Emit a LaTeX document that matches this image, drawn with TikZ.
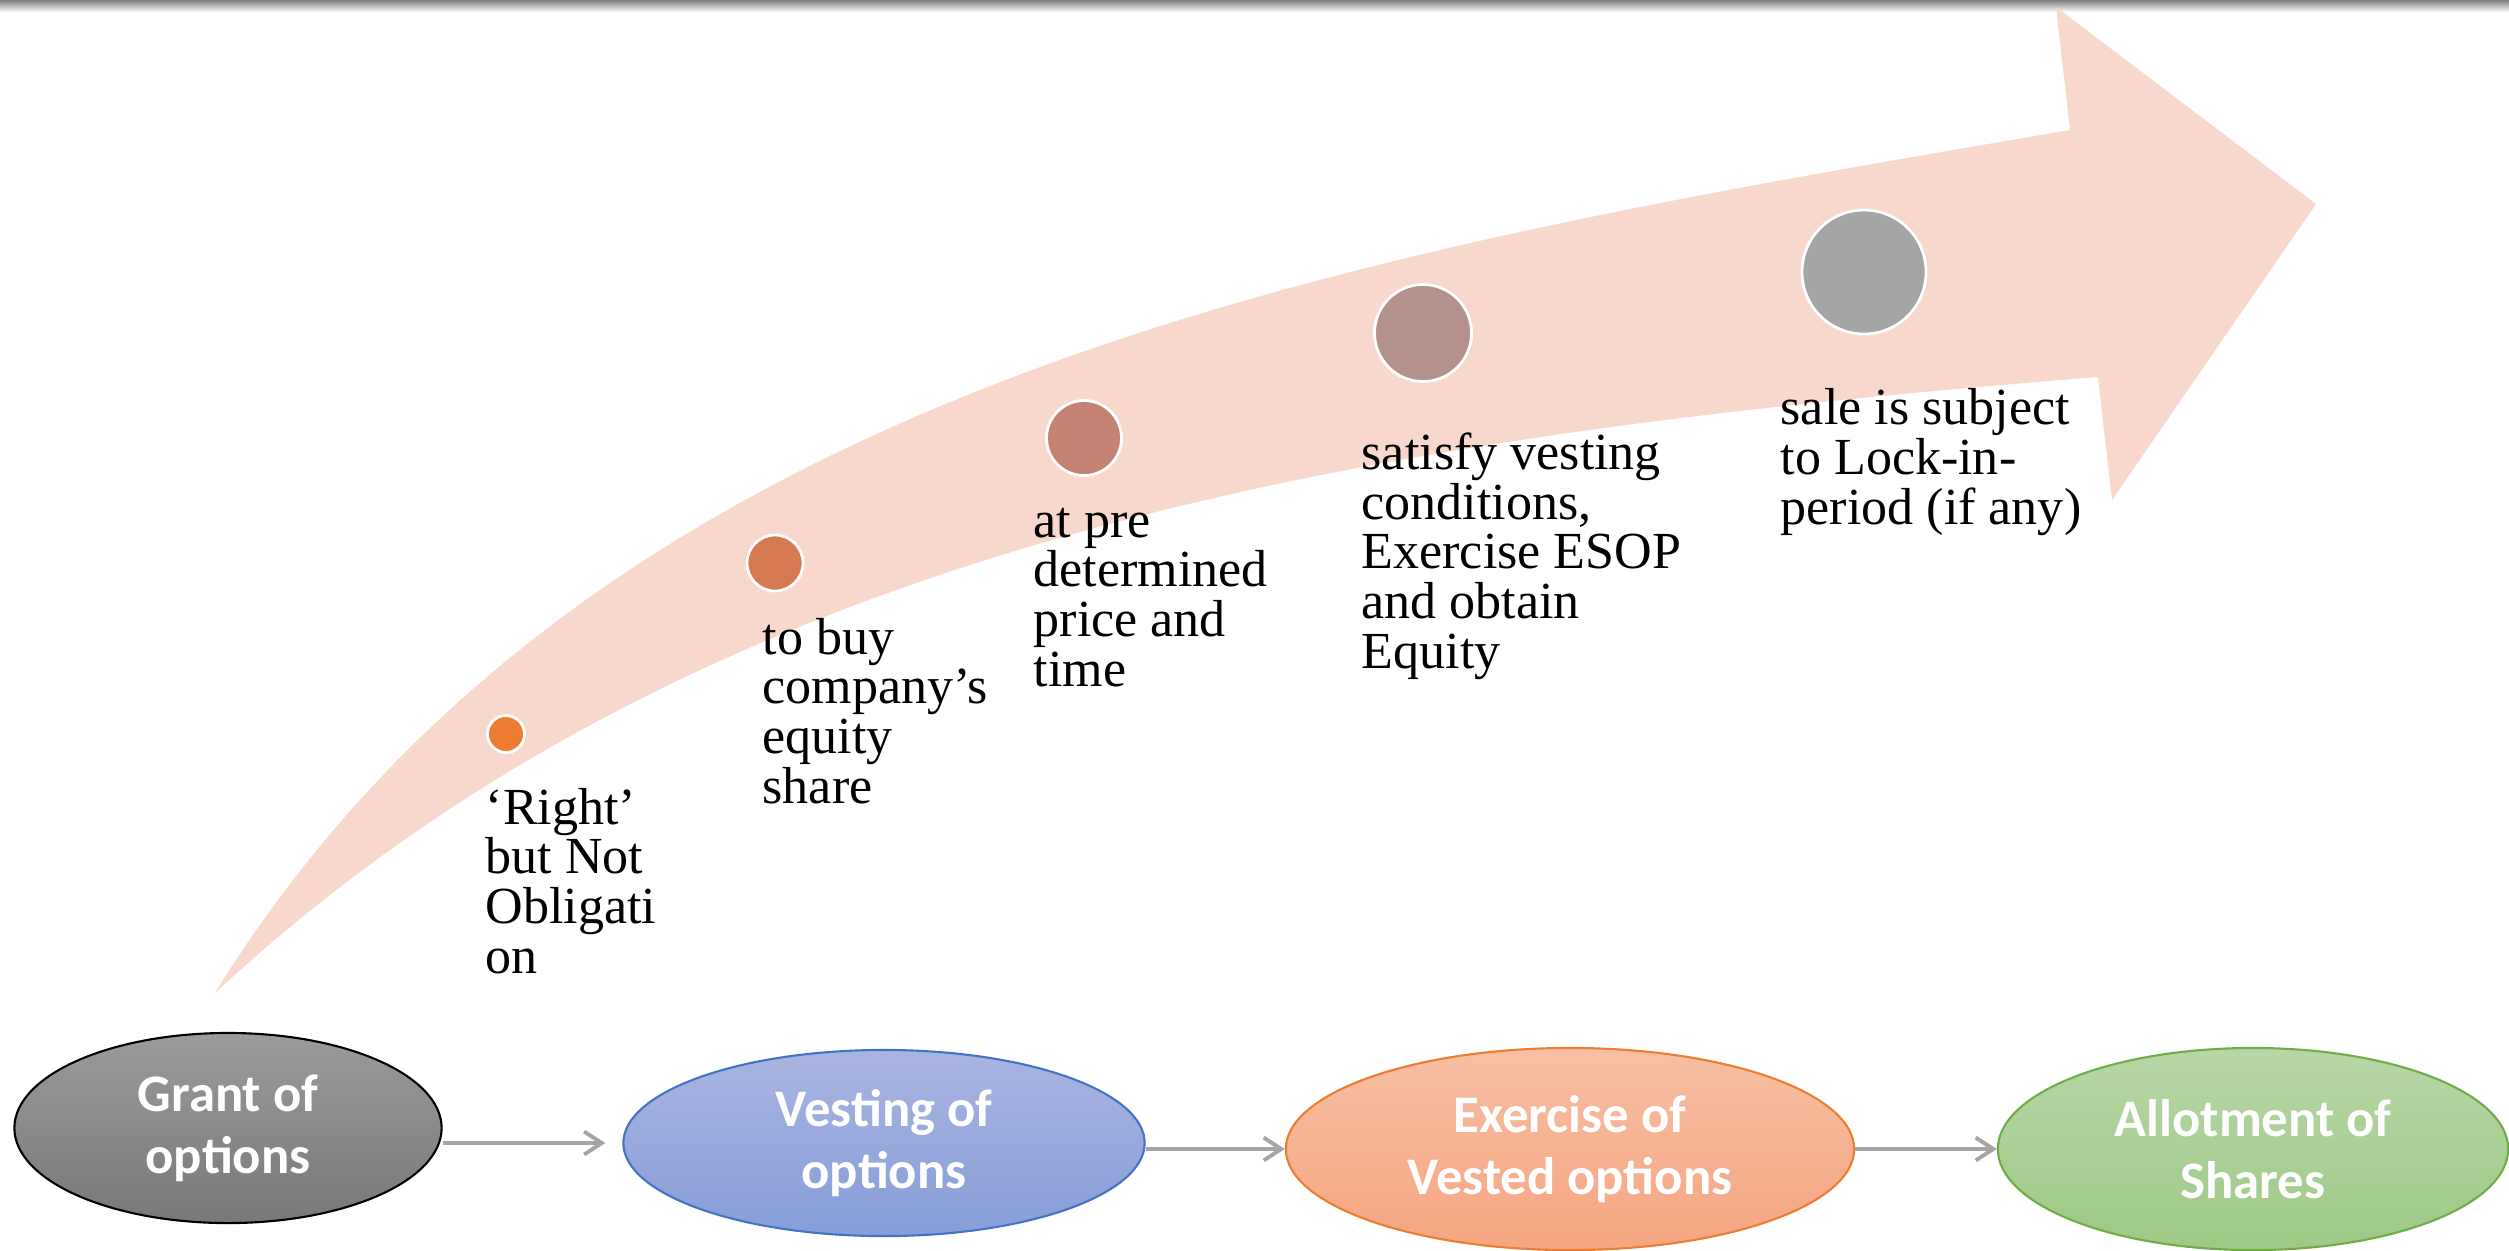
\documentclass[tikz,border=0pt]{standalone}
\usepackage{fontspec}
\setmainfont{Liberation Serif}
\newfontfamily\calibfont{Carlito}
\usetikzlibrary{shapes.geometric,arrows.meta}
\definecolor{arrowpink}{RGB}{248,215,205}
\definecolor{dotA}{RGB}{237,125,49}
\definecolor{dotB}{RGB}{214,122,84}
\definecolor{dotC}{RGB}{195,130,114}
\definecolor{dotD}{RGB}{180,145,139}
\definecolor{dotE}{RGB}{165,165,165}
\definecolor{grayTop}{RGB}{155,155,155}
\definecolor{grayBot}{RGB}{120,120,120}
\definecolor{blueTop}{RGB}{169,181,224}
\definecolor{blueBot}{RGB}{134,157,216}
\definecolor{blueLine}{RGB}{68,114,196}
\definecolor{orTop}{RGB}{247,191,164}
\definecolor{orBot}{RGB}{245,165,128}
\definecolor{orLine}{RGB}{237,125,49}
\definecolor{grTop}{RGB}{183,214,166}
\definecolor{grBot}{RGB}{158,201,134}
\definecolor{grLine}{RGB}{112,173,71}
\definecolor{connGray}{RGB}{165,165,165}
\tikzset{
  dotnode/.style={circle, draw=white, line width=0.8pt, inner sep=0pt},
  lbl/.style={anchor=base west, align=left, inner sep=0pt, font=\fontsize{14.8pt}{14.1pt}\selectfont},
  stage/.style={ellipse, inner sep=0pt, line width=0.6pt, align=center, text=white,
    font=\calibfont\bfseries\fontsize{15pt}{17.6pt}\selectfont},
  conn/.style={draw=connGray, line width=1.1pt, -{Straight Barb[length=5pt,width=6.5pt]}}
}
\begin{document}
\begin{tikzpicture}[x=0.01cm,y=-0.01cm]
\useasboundingbox (0,0) rectangle (2509,1250);
\fill[white] (0,0) rectangle (2509,1250);
\shade[top color=black!50, bottom color=white] (0,0) rectangle (2509,12);
% big curved arrow
\fill[arrowpink] (215,993) .. controls (600,370) and (1370,250) .. (2070,130)
  -- (2056,7) -- (2316,204) -- (2112,500) -- (2098,377)
  .. controls (1398,433) and (715,528) .. (215,993) -- cycle;
% dots
\node[dotnode, fill=dotA, minimum size=0.37cm] (d1) at (506,734) {};
\node[dotnode, fill=dotB, minimum size=0.56cm] (d2) at (775,563) {};
\node[dotnode, fill=dotC, minimum size=0.75cm] (d3) at (1084,438) {};
\node[dotnode, fill=dotD, minimum size=0.97cm] (d4) at (1423,333) {};
\node[dotnode, fill=dotE, minimum size=1.24cm] (d5) at (1864,272) {};
% labels (anchored at the baseline of their last line)
\node[lbl] (t1) at (485,973) {‘Right’\\but Not\\Obligati\\on};
\node[lbl] (t2) at (762,803) {to buy\\company’s\\equity\\share};
\node[lbl] (t3) at (1033,686) {at pre\\determined\\price and\\time};
\node[lbl] (t4) at (1361,668) {satisfy vesting\\conditions,\\Exercise ESOP\\and obtain\\Equity};
\node[lbl] (t5) at (1780,524) {sale is subject\\to Lock-in-\\period (if any)};
% stages
\node[stage, draw=black, top color=grayTop, bottom color=grayBot,
  minimum width=4.27cm, minimum height=1.90cm] (grant) at (228,1128) {Grant of\\options};
\node[stage, draw=blueLine, top color=blueTop, bottom color=blueBot,
  minimum width=5.21cm, minimum height=1.86cm] (vest) at (884,1143) {Vesting of\\options};
\node[stage, draw=orLine, top color=orTop, bottom color=orBot,
  minimum width=5.68cm, minimum height=2.02cm] (exer) at (1570,1149) {Exercise of\\Vested options};
\node[stage, draw=grLine, top color=grTop, bottom color=grBot,
  minimum width=5.10cm, minimum height=2.02cm] (allot) at (2253,1149) {Allotment of\\Shares};
% connectors
\draw[conn, shorten >=0.17cm] (grant.east |- vest.west) -- (vest.west);
\draw[conn] (vest.east |- exer.west) -- (exer.west);
\draw[conn] (exer.east |- allot.west) -- (allot.west);
\end{tikzpicture}
\end{document}
